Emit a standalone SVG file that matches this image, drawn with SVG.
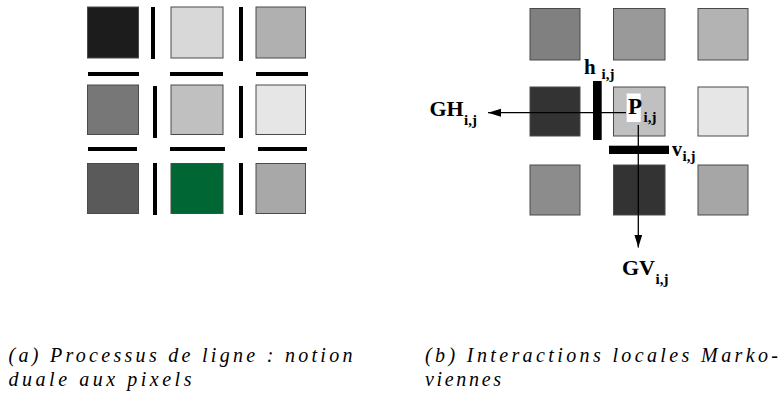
<svg xmlns="http://www.w3.org/2000/svg" width="781" height="402" viewBox="0 0 781 402">
<defs>
<style>
.px{stroke:#4a4a4a;stroke-width:1}
.bar{fill:#000}
.lbl{font-family:"Liberation Serif","Times New Roman",serif;font-weight:bold;fill:#000}
.sub{font-family:"Liberation Serif","Times New Roman",serif;font-weight:bold;fill:#000;font-size:15px}
.cap{font-family:"Liberation Serif","Times New Roman",serif;font-style:italic;font-size:20px;fill:#000}
.conn{stroke:#000;stroke-width:1.3;fill:none}
</style>
<marker id="ah" markerUnits="userSpaceOnUse" markerWidth="14" markerHeight="10" refX="13" refY="4" orient="auto">
<path d="M0,0 L13,4 L0,8 z" fill="#000"/>
</marker>
</defs>
<rect width="781" height="402" fill="#fff"/>

<!-- Panel (a) -->
<g id="panel-a">
<g id="a-p11"><rect class="px" x="87.5" y="7" width="51" height="51" fill="#1c1c1c"/></g>
<g id="a-p12"><rect class="px" x="171" y="7" width="52" height="51" fill="#d8d8d8"/></g>
<g id="a-p13"><rect class="px" x="256" y="7" width="49.5" height="51" fill="#b0b0b0"/></g>
<g id="a-p21"><rect class="px" x="87.5" y="85" width="51" height="49.5" fill="#777777"/></g>
<g id="a-p22"><rect class="px" x="171" y="85" width="52" height="49.5" fill="#c0c0c0"/></g>
<g id="a-p23"><rect class="px" x="256" y="85" width="49.5" height="49.5" fill="#e6e6e6"/></g>
<g id="a-p31"><rect class="px" x="87.5" y="163.5" width="51" height="50" fill="#5a5a5a"/></g>
<g id="a-p32"><rect class="px" x="171" y="163.5" width="52" height="50" fill="#006633" stroke="#1a3322"/></g>
<g id="a-p33"><rect class="px" x="256" y="163.5" width="49.5" height="50" fill="#a8a8a8"/></g>
<g id="a-lines">
<rect class="bar" x="151" y="7" width="4" height="52"/>
<rect class="bar" x="239" y="7" width="4" height="54"/>
<rect class="bar" x="153" y="86" width="4" height="52"/>
<rect class="bar" x="239" y="86" width="4" height="52"/>
<rect class="bar" x="153" y="163" width="4" height="52"/>
<rect class="bar" x="239" y="163" width="4" height="52"/>
<rect class="bar" x="88" y="72" width="51" height="4"/>
<rect class="bar" x="170" y="72" width="53" height="4"/>
<rect class="bar" x="256" y="72" width="52" height="4"/>
<rect class="bar" x="88" y="147" width="49" height="4"/>
<rect class="bar" x="170" y="147" width="55" height="4"/>
<rect class="bar" x="258" y="147" width="49" height="4"/>
</g>
</g>

<!-- Panel (b) -->
<g id="panel-b">
<g id="b-p11"><rect class="px" x="530" y="8.5" width="50" height="51.5" fill="#808080"/></g>
<g id="b-p12"><rect class="px" x="613.5" y="8.5" width="51.5" height="51.5" fill="#999999"/></g>
<g id="b-p13"><rect class="px" x="698" y="8.5" width="50" height="51.5" fill="#b3b3b3"/></g>
<g id="b-p21"><rect class="px" x="530" y="87" width="50" height="49" fill="#333333"/></g>
<g id="b-p22"><rect class="px" x="613.5" y="87" width="51.5" height="49" fill="#c0c0c0"/></g>
<g id="b-p23"><rect class="px" x="698" y="87" width="50" height="49" fill="#e6e6e6"/></g>
<g id="b-p31"><rect class="px" x="530" y="165" width="50" height="50" fill="#8c8c8c"/></g>
<g id="b-p32"><rect class="px" x="613.5" y="165" width="51.5" height="50" fill="#333333"/></g>
<g id="b-p33"><rect class="px" x="698" y="165" width="50" height="50" fill="#a6a6a6"/></g>

<g id="connectors">
<line class="conn" x1="626" y1="112.7" x2="488" y2="112.7" marker-end="url(#ah)"/>
<line class="conn" x1="638.3" y1="125" x2="638.3" y2="247.5" marker-end="url(#ah)"/>
</g>

<g id="h-bar"><rect class="bar" x="593" y="81" width="8.7" height="59"/>
<text class="lbl" x="584" y="73.5" font-size="21">h</text>
<text class="sub" x="601.5" y="79">i,j</text></g>
<g id="v-bar"><rect class="bar" x="609" y="145.7" width="60" height="8.3"/>
<text class="lbl" x="672" y="155.7" font-size="20">v</text>
<text class="sub" x="682.5" y="161">i,j</text></g>
<g id="P">
<rect x="626.7" y="93.5" width="14" height="28.5" fill="#fff"/>
<text class="lbl" x="628" y="113.7" font-size="23">P</text>
<text class="sub" x="643.5" y="121.5">i,j</text>
</g>
<g id="GH">
<text class="lbl" x="429.5" y="115.5" font-size="22">GH</text>
<text class="sub" x="464" y="125">i,j</text>
</g>
<g id="GV">
<text class="lbl" x="622" y="275" font-size="22">GV</text>
<text class="sub" x="655.5" y="283.5">i,j</text>
</g>
</g>

<!-- Captions -->
<g id="caption-a">
<text class="cap" x="8.5" y="362" textLength="344" lengthAdjust="spacing">(a) Processus de ligne : notion</text>
<text class="cap" x="8.5" y="386" textLength="183" lengthAdjust="spacing">duale aux pixels</text>
</g>
<g id="caption-b">
<text class="cap" x="425" y="362" textLength="353" lengthAdjust="spacing">(b) Interactions locales Marko-</text>
<text class="cap" x="425" y="386" textLength="76" lengthAdjust="spacing">viennes</text>
</g>
</svg>
